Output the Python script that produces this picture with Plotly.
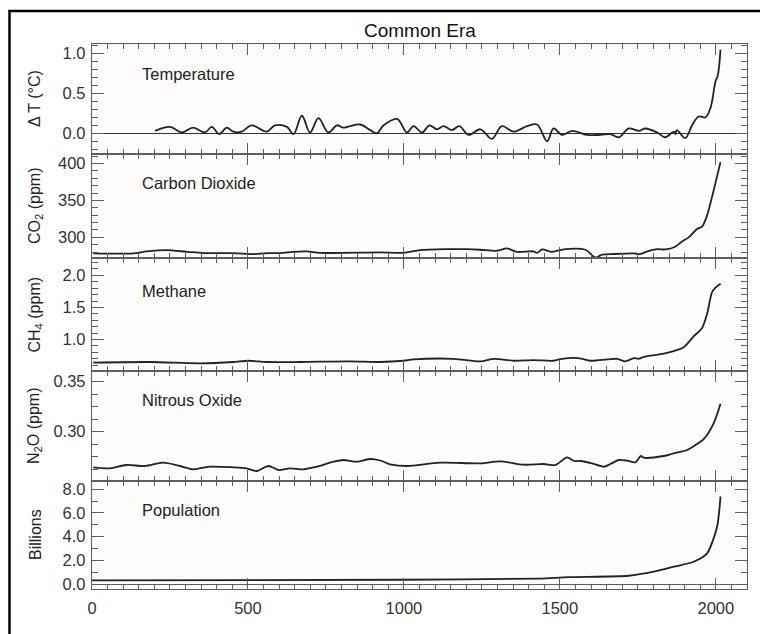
import plotly.graph_objects as go

# ---------------- data ----------------
temp_year = [202, 250, 288, 324, 362, 384, 408, 432, 453, 480, 512, 560, 587, 625, 646, 673, 699, 726,
             758, 785, 806, 828, 860, 892, 913, 935, 978, 1010, 1031, 1058, 1082, 1106, 1127, 1154, 1178,
             1207, 1245, 1282, 1314, 1352, 1395, 1427, 1459, 1480, 1507, 1539, 1587, 1630, 1662, 1689,
             1721, 1753, 1774, 1812, 1838, 1865, 1870, 1875, 1902, 1924, 1945, 1967, 1983, 1999, 2006,
             2010, 2015]
temp_val = [0.03, 0.08, 0.01, 0.07, 0.01, 0.08, -0.01, 0.07, 0.02, 0.02, 0.10, 0.02, 0.10, 0.08, -0.01,
            0.22, 0.01, 0.19, 0.01, 0.10, 0.07, 0.09, 0.11, 0.04, 0.00, 0.10, 0.18, 0.01, 0.09, 0.01,
            0.10, 0.05, 0.09, 0.04, 0.09, -0.02, 0.05, -0.07, 0.09, 0.02, 0.09, 0.11, -0.10, 0.06, -0.02,
            0.03, -0.02, -0.02, -0.01, -0.05, 0.06, 0.03, 0.06, 0.01, -0.05, 0.02, -0.01, 0.04, -0.06,
            0.10, 0.21, 0.20, 0.32, 0.65, 0.72, 0.82, 1.05]

co2_year = [4, 132, 175, 239, 304, 357, 453, 518, 561, 604, 646, 689, 732, 924, 999, 1052, 1138, 1202,
            1245, 1298, 1330, 1362, 1416, 1427, 1443, 1475, 1517, 1582, 1614, 1635, 1673, 1737, 1758,
            1780, 1812, 1839, 1870, 1892, 1913, 1940, 1956, 1972, 1993, 2015]
co2_val = [278.2, 278.2, 280.9, 282.7, 280.4, 278.6, 278.6, 277.3, 278.6, 278.6, 280.4, 281.0, 279.0,
           279.5, 279.0, 282.7, 284.0, 284.0, 283.2, 281.8, 285.0, 280.4, 281.0, 279.0, 283.6, 280.4,
           284.0, 283.2, 272.5, 276.5, 277.4, 278.2, 277.4, 281.0, 284.0, 283.6, 287.3, 294.5, 300.0,
           311.4, 314.5, 329.6, 363.6, 402.0]

ch4_year = [4, 186, 346, 453, 500, 561, 668, 828, 924, 999, 1031, 1159, 1245, 1288, 1352, 1416, 1480,
            1507, 1560, 1598, 1652, 1684, 1710, 1737, 1753, 1769, 1833, 1865, 1897, 1929, 1956, 1972,
            1988, 1999, 2015]
ch4_val = [0.64, 0.65, 0.63, 0.65, 0.67, 0.65, 0.65, 0.66, 0.65, 0.67, 0.69, 0.70, 0.66, 0.70, 0.67,
           0.68, 0.67, 0.70, 0.71, 0.67, 0.69, 0.70, 0.66, 0.71, 0.70, 0.73, 0.78, 0.82, 0.88, 1.05,
           1.18, 1.40, 1.74, 1.81, 1.87]

n2o_year = [4, 57, 110, 169, 228, 282, 325, 378, 453, 496, 528, 566, 598, 635, 678, 721, 775, 806, 849,
            892, 924, 956, 1010, 1116, 1245, 1309, 1384, 1448, 1486, 1523, 1545, 1566, 1603, 1641, 1662,
            1689, 1716, 1742, 1760, 1769, 1833, 1865, 1908, 1935, 1961, 1993, 2015]
n2o_val = [0.2644, 0.2634, 0.2667, 0.2657, 0.2690, 0.2657, 0.2624, 0.2650, 0.2644, 0.2634, 0.2607,
           0.2657, 0.2617, 0.2634, 0.2624, 0.2650, 0.2700, 0.2717, 0.2700, 0.2727, 0.2712, 0.2674,
           0.2657, 0.2690, 0.2684, 0.2704, 0.2670, 0.2677, 0.2667, 0.2743, 0.2707, 0.2707, 0.2684,
           0.2650, 0.2677, 0.2717, 0.2710, 0.2694, 0.2757, 0.2740, 0.2757, 0.2784, 0.2817, 0.2867,
           0.2925, 0.3084, 0.3280]

pop_year = [0, 1000, 1431, 1527, 1721, 1801, 1865, 1929, 1972, 2004, 2015]
pop_val = [0.30, 0.36, 0.46, 0.58, 0.70, 1.04, 1.46, 1.88, 2.59, 4.84, 7.40]

panel_names = ["Temperature", "Carbon Dioxide", "Methane", "Nitrous Oxide", "Population"]
axis_titles = ["Δ T (°C)", "CO<sub>2</sub> (ppm)", "CH<sub>4</sub> (ppm)", "N<sub>2</sub>O (ppm)", "Billions"]
series = [(temp_year, temp_val), (co2_year, co2_val), (ch4_year, ch4_val),
          (n2o_year, n2o_val), (pop_year, pop_val)]

# ---------------- styling ----------------
FONT = "Liberation Sans, Arial, Helvetica, sans-serif"
AX = "#5e5e5e"
LINE = "#222222"
yranges = [[-0.26, 1.12], [272, 413], [0.51, 2.27], [0.2507, 0.3607], [-0.42, 8.7]]
ydticks = [0.5, 50, 0.5, 0.05, 2.0]
yminor = [0.1, 10, 0.1, 0.0125, 1.0]
yfmt = [".1f", "d", ".1f", ".2f", ".1f"]
smooth = [1.0, 0.8, 0.8, 0.8, 0.7]

W, Hfig = 760, 634
ML, MR, MT, MB = 92, 13, 44, 45
PW = W - ML - MR
boundaries = [44, 154, 258, 371, 481, 589]
H = boundaries[-1] - boundaries[0]


def fy(px):
    return (boundaries[-1] - px) / H


def fx(px):
    return (px - ML) / PW


fig = go.Figure()
layout = {}
for i, (xs, ys) in enumerate(series):
    n = i + 1
    xa = "x" if n == 1 else f"x{n}"
    ya = "y" if n == 1 else f"y{n}"
    fig.add_trace(go.Scatter(x=xs, y=ys, xaxis=xa, yaxis=ya, mode="lines",
                             line=dict(color=LINE, width=1.8, shape="spline", smoothing=smooth[i]),
                             showlegend=False, hoverinfo="skip"))
    dom = [fy(boundaries[i + 1]), fy(boundaries[i])]
    xkey = "xaxis" if n == 1 else f"xaxis{n}"
    ykey = "yaxis" if n == 1 else f"yaxis{n}"
    layout[xkey] = dict(
        domain=[0, 1], anchor=ya, range=[0, 2100],
        tickmode="linear", tick0=0, dtick=500,
        ticks="inside", ticklen=11, tickwidth=1.3, tickcolor=AX,
        minor=dict(tickmode="linear", tick0=0, dtick=50, ticks="inside", ticklen=5,
                   tickwidth=1.2, tickcolor=AX, showgrid=False),
        showline=True, linecolor=AX, linewidth=1.4, mirror="ticks",
        showgrid=False, zeroline=False, automargin=False,
        showticklabels=(n == 5),
        tickfont=dict(family=FONT, size=16.5, color="#333"),
        ticklabelstandoff=4, fixedrange=True,
    )
    layout[ykey] = dict(
        domain=dom, anchor=xa, range=yranges[i],
        tickmode="linear", tick0=0, dtick=ydticks[i], tickformat=yfmt[i],
        ticks="inside", ticklen=12, tickwidth=1.2, tickcolor=AX,
        minor=dict(tickmode="linear", tick0=0, dtick=yminor[i], ticks="inside", ticklen=6,
                   tickwidth=1.1, tickcolor=AX, showgrid=False),
        showline=True, linecolor=AX, linewidth=1.4, mirror="ticks",
        showgrid=False, automargin=False,
        zeroline=(i in (0, 4)), zerolinecolor=("#333" if i == 0 else AX), zerolinewidth=1.2,
        tickfont=dict(family=FONT, size=16.5, color="#333"),
        ticklabelstandoff=2, fixedrange=True,
    )

name_y_px = [74, 182.7, 291, 400, 510]
anns = []
for i in range(5):
    anns.append(dict(text=panel_names[i], x=fx(140), y=fy(name_y_px[i]),
                     xref="paper", yref="paper", xanchor="left", yanchor="middle", showarrow=False,
                     font=dict(family=FONT, size=16.5, color="#222")))
    cy = (boundaries[i] + boundaries[i + 1]) / 2
    anns.append(dict(text=axis_titles[i], x=fx(35), y=fy(cy),
                     xref="paper", yref="paper", xanchor="center", yanchor="middle", showarrow=False,
                     textangle=-90, font=dict(family=FONT, size=16, color="#222")))
anns.append(dict(text="Common Era", x=0.5, y=fy(30), xref="paper", yref="paper",
                 xanchor="center", yanchor="middle", showarrow=False,
                 font=dict(family=FONT, size=19, color="#111")))

fig.update_layout(
    width=W, height=Hfig,
    margin=dict(l=ML, r=MR, t=MT, b=MB, autoexpand=False),
    paper_bgcolor="white", plot_bgcolor="#fdfcfa",
    annotations=anns,
    shapes=[dict(type="rect", xref="paper", yref="paper",
                 x0=fx(9.5), x1=fx(775), y0=fy(650), y1=fy(11),
                 line=dict(color="black", width=2.5), fillcolor="rgba(0,0,0,0)", layer="below")],
    font=dict(family=FONT),
    **layout,
)

fig.write_html("out.html", post_script="document.body.style.margin='0px';",
               config={"displayModeBar": False})
